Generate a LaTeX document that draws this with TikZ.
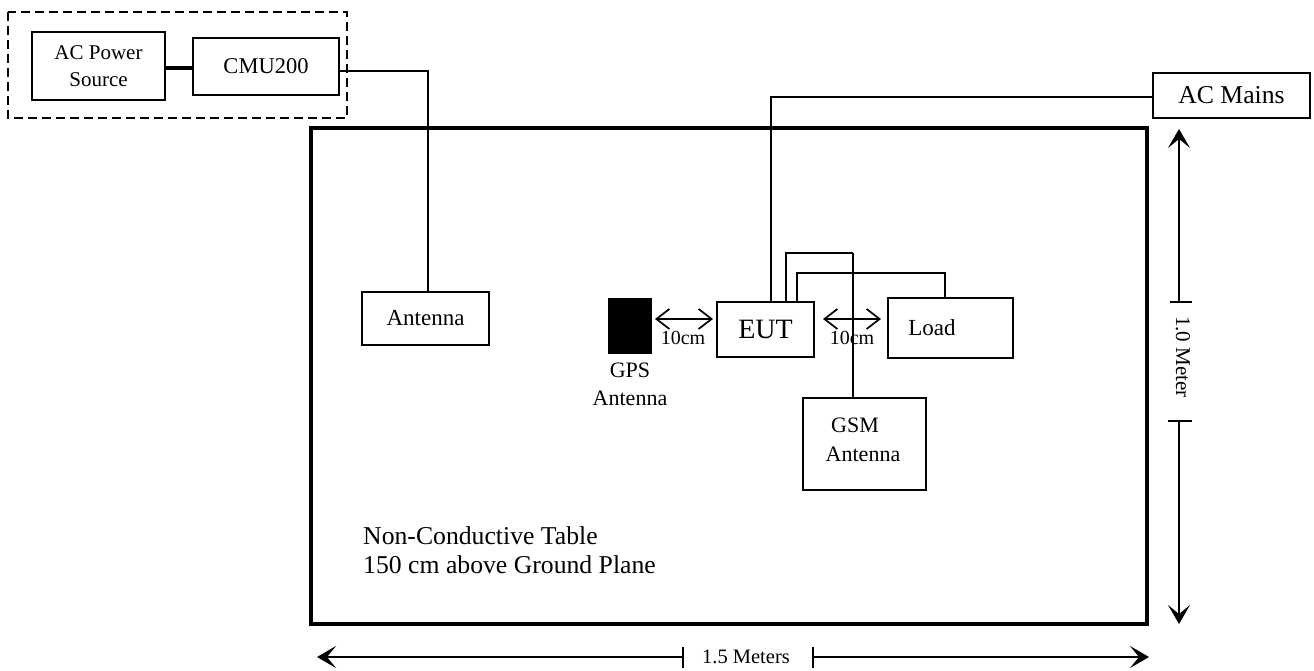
\documentclass[tikz,border=0pt]{standalone}
\usepackage{fontspec}
\setmainfont{Liberation Serif}
\usetikzlibrary{arrows.meta}
\newcommand{\fs}[2]{\fontsize{#1}{#2}\selectfont}
\tikzset{
  box/.style={draw, line width=2pt, inner sep=0pt, rectangle},
  wire/.style={line width=2.8pt},
  thinwire/.style={line width=1.3pt},
  dimline/.style={line width=1.6pt},
  dimtip/.style={-{Stealth[length=19pt,width=22pt,inset=9pt]}},
  gap/.style={line width=1.7pt, {Straight Barb[length=13pt,width=20pt,line width=1.7pt]}-{Straight Barb[length=13pt,width=20pt,line width=1.7pt]}},
  lbl/.style={inner sep=0pt},
}
\begin{document}
\begin{tikzpicture}[x=1pt,y=-1pt]
\useasboundingbox (0,0) rectangle (1314,671);
% dashed enclosure
\draw[line width=1.8pt, dash pattern=on 9pt off 5pt] (8,12) rectangle (347,118);
% table
\draw[line width=3.3pt] (311,128) rectangle (1147,624);
% boxes
\node[box, minimum width=133pt, minimum height=68pt, align=center, font=\fs{21}{27}] (acps) at (98.5,66) {AC Power\\Source};
\node[box, minimum width=146pt, minimum height=57pt, font=\fs{22.5}{26}] (cmu) at (266,66.5) {CMU200};
\node[box, minimum width=127pt, minimum height=53pt, font=\fs{23}{27}] (ant) at (425.5,318.5) {Antenna};
\node[box, minimum width=157pt, minimum height=45pt, font=\fs{25.7}{30}] (mains) at (1231.5,95.5) {AC Mains};
\node[box, minimum width=97pt, minimum height=55pt, font=\fs{28}{32}] (eut) at (765.5,329.5) {EUT};
\node[box, minimum width=125pt, minimum height=60pt] (load) at (950.5,328) {};
\node[lbl, font=\fs{23}{27}] (loadt) at (932,328) {Load};
\node[box, minimum width=123pt, minimum height=92pt] (gsm) at (864.5,444) {};
\node[lbl, font=\fs{22}{26}] (gsmt1) at (855,425) {GSM};
\node[lbl, font=\fs{22}{26}] (gsmt2) at (863,454) {Antenna};
\node[fill=black, draw=black, inner sep=0pt, minimum width=43pt, minimum height=55pt] (gps) at (629.5,325.5) {};
\node[lbl, font=\fs{22}{28}, align=center] (gpst) at (630,384) {GPS\\Antenna};
% coordinates on box tops
\coordinate (c1) at (428,71);
\coordinate (m1) at (771,97);
\coordinate (e2) at (786,253);
\coordinate (e3) at (853,253);
\coordinate (l1) at (797,273);
\coordinate (l2) at (945,273);
% connectors
\draw[line width=3.4pt] (acps.east |- 0,68) -- (cmu.west |- 0,68);
\draw[wire] (cmu.east |- c1) -- (c1) -- (c1 |- ant.north);
\draw[wire] (mains.west |- m1) -- (m1) -- (m1 |- eut.north);
\draw[wire] (e2 |- eut.north) -- (e2) -- (e3);
\draw[thinwire] (e3) -- (e3 |- gsm.north);
\draw[wire] (l1 |- eut.north) -- (l1) -- (l2) -- (l2 |- load.north);
% 10 cm gaps
\coordinate (g1a) at (655,319);
\coordinate (g1b) at (713,319);
\coordinate (g2a) at (823,319);
\coordinate (g2b) at (881,319);
\draw[gap] (g1a) -- (g1b);
\draw[gap] (g2a) -- (g2b);
\node[lbl, font=\fs{20}{24}] (cm1) at (683,338) {10cm};
\node[lbl, font=\fs{20}{24}] (cm2) at (852,338) {10cm};
% table text
\node[lbl, font=\fs{25.7}{29}, anchor=base west] (tt1) at (363,544) {Non-Conductive Table};
\node[lbl, font=\fs{25.7}{29}, anchor=base west] (tt2) at (363,573) {150 cm above Ground Plane};
% vertical dimension
\coordinate (vt) at (1179,129);
\coordinate (vu) at (1179,302);
\coordinate (vl) at (1179,421);
\coordinate (vb) at (1179,624);
\draw[dimline, dimtip] (vu) -- (vt);
\draw[dimline, dimtip] (vl) -- (vb);
\draw[dimline] (1170,302) -- (1192,302);
\draw[dimline] (1168,421) -- (1192,421);
\node[lbl, font=\fs{21}{25}, rotate=-90] (vtxt) at (1183,357) {1.0 Meter};
% horizontal dimension
\coordinate (hl) at (317,657);
\coordinate (hm1) at (683,657);
\coordinate (hm2) at (813,657);
\coordinate (hr) at (1149,657);
\draw[dimline, dimtip] (hm1) -- (hl);
\draw[dimline, dimtip] (hm2) -- (hr);
\draw[dimline] (683,647) -- (683,668);
\draw[dimline] (813,647) -- (813,668);
\node[lbl, font=\fs{20.5}{24}] (htxt) at (746,657) {1.5 Meters};
\end{tikzpicture}
\end{document}
